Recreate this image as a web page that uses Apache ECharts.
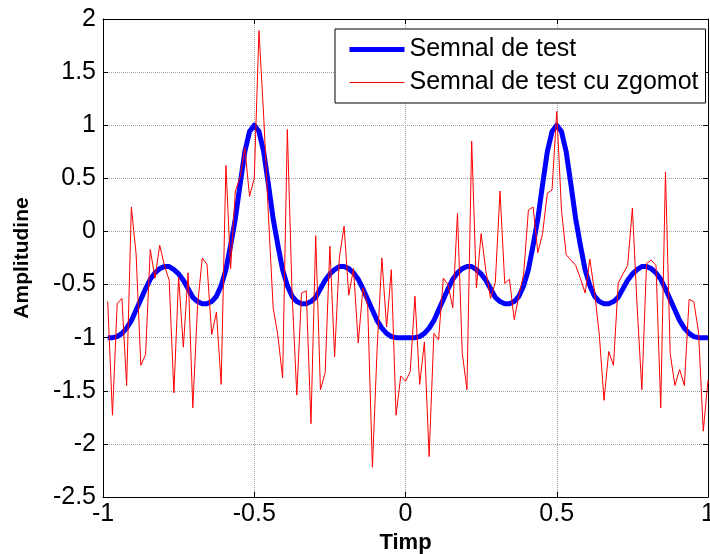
<!DOCTYPE html>
<html>
<head>
<meta charset="utf-8">
<title>Semnal de test</title>
<script src="https://cdn.jsdelivr.net/npm/echarts@6/dist/echarts.min.js"></script>
<style>
  html, body { margin: 0; padding: 0; background: #ffffff; }
  #chart { width: 710px; height: 554px; }
</style>
</head>
<body>
<div id="chart"></div>
<script>
// Sampling grid: 128 samples, t = -1 + k/64 for k = 1..128
const sampleCount = 128;
const sampleStep = 1 / 64;

// Clean test signal (thick blue curve)
const cleanSignal = [
  -1.00, -1.00, -0.99, -0.96, -0.91, -0.84, -0.74, -0.64, -0.54, -0.45,
  -0.39, -0.35, -0.33, -0.33, -0.36, -0.40, -0.46, -0.54, -0.62, -0.66,
  -0.68, -0.68, -0.66, -0.61, -0.51, -0.36, -0.13, 0.12, 0.44, 0.75,
  0.94, 1.00, 0.94, 0.75, 0.44, 0.12, -0.13, -0.36, -0.51, -0.61,
  -0.66, -0.68, -0.68, -0.66, -0.62, -0.54, -0.46, -0.40, -0.36, -0.33,
  -0.33, -0.35, -0.39, -0.45, -0.54, -0.64, -0.74, -0.84, -0.91, -0.96,
  -0.99, -1.00, -1.00, -1.00, -1.00, -1.00, -0.99, -0.96, -0.91, -0.84,
  -0.74, -0.64, -0.54, -0.45, -0.39, -0.35, -0.33, -0.33, -0.36, -0.40,
  -0.46, -0.54, -0.62, -0.66, -0.68, -0.68, -0.66, -0.61, -0.51, -0.36,
  -0.13, 0.12, 0.44, 0.75, 0.94, 1.00, 0.94, 0.75, 0.44, 0.12,
  -0.13, -0.36, -0.51, -0.61, -0.66, -0.68, -0.68, -0.66, -0.62, -0.54,
  -0.46, -0.40, -0.36, -0.33, -0.33, -0.35, -0.39, -0.45, -0.54, -0.64,
  -0.74, -0.84, -0.91, -0.96, -0.99, -1.00, -1.00, -1.00
];

// Same signal with added noise (thin red curve)
const noisySignal = [
  -0.66, -1.73, -0.68, -0.63, -1.45, 0.23, -0.21, -1.26, -1.16, -0.17,
  -0.44, -0.13, -0.32, -0.46, -1.52, -0.43, -1.09, -0.39, -1.66, -0.70,
  -0.25, -0.31, -0.97, -0.76, -1.44, 0.62, -0.35, 0.38, 0.51, 0.79,
  0.33, 0.50, 1.89, 1.08, 0.15, -0.72, -0.98, -1.38, 0.96, -0.58,
  -1.54, -0.58, -0.56, -1.81, -0.04, -1.49, -1.33, -0.14, -1.18, -0.25,
  0.05, -0.60, -0.35, -1.05, -0.53, -0.70, -2.22, -1.10, -0.25, -0.90,
  -0.36, -1.73, -1.36, -1.41, -1.32, -0.61, -1.44, -1.04, -2.12, -0.96,
  -1.02, -0.44, -0.50, -0.72, 0.17, -1.14, -1.49, 0.85, -0.53, -0.02,
  -0.37, -0.63, -0.48, 0.38, -0.49, -0.45, -0.83, -0.60, -0.40, 0.20,
  0.23, -0.20, -0.02, 0.36, 0.39, 1.13, 0.20, -0.22, -0.27, -0.32,
  -0.44, -0.58, -0.26, -0.57, -0.97, -1.59, -1.13, -1.26, -0.49, -0.40,
  -0.32, 0.22, -0.70, -1.49, -0.30, -0.27, -0.32, -1.66, 0.56, -1.15,
  -1.45, -1.30, -1.45, -0.64, -0.66, -0.95, -1.88, -1.40
];

const seriesNames = ['Semnal de test', 'Semnal de test cu zgomot'];
const xTicks = { min: -1, max: 1, step: 0.5 };
const yTicks = { min: -2.5, max: 2, step: 0.5 };

const times = [];
for (let k = 1; k <= sampleCount; k++) times.push(-1 + k * sampleStep);

const pairs = (vals) => vals.map((v, i) => [times[i], v]);

const font = 'Arial, "Liberation Sans", Helvetica, sans-serif';

const gridLine = { show: true, lineStyle: { color: '#a0a0a0', type: [1, 1], width: 1 } };
const frameLine = { show: true, onZero: false, lineStyle: { color: '#000', width: 1 } };
const innerTick = { show: true, inside: true, length: 5, lineStyle: { color: '#000', width: 1 } };

const chart = echarts.init(document.getElementById('chart'), null, { renderer: 'canvas' });

chart.setOption({
  animation: false,
  backgroundColor: '#ffffff',
  textStyle: { fontFamily: font },
  grid: { left: 103, right: 2, top: 19, bottom: 57, containLabel: false, outerBoundsMode: 'none' },
  legend: {
    data: [
      { name: seriesNames[0], lineStyle: { width: 5, color: '#0000ff' } },
      { name: seriesNames[1], lineStyle: { width: 1, color: '#ff0000' } }
    ],
    orient: 'vertical',
    left: 335,
    top: 29,
    padding: [8, 7, 8, 12],
    itemGap: 8,
    itemWidth: 55,
    itemHeight: 24,
    itemStyle: { opacity: 0 },
    backgroundColor: '#ffffff',
    borderColor: '#000000',
    borderWidth: 1,
    borderRadius: 0,
    textStyle: { fontFamily: font, fontSize: 25, color: '#000' }
  },
  xAxis: [
    {
      type: 'value', position: 'bottom',
      min: xTicks.min, max: xTicks.max, interval: xTicks.step,
      name: 'Timp', nameLocation: 'middle', nameGap: 34,
      nameTextStyle: { fontFamily: font, fontSize: 22, fontWeight: 'bold', color: '#000' },
      axisLine: frameLine, axisTick: innerTick,
      axisLabel: { fontFamily: font, fontSize: 25, color: '#000', margin: 5 },
      splitLine: gridLine
    },
    {
      type: 'value', position: 'top',
      min: xTicks.min, max: xTicks.max, interval: xTicks.step,
      axisLine: frameLine, axisTick: innerTick,
      axisLabel: { show: false }, splitLine: { show: false }
    }
  ],
  yAxis: [
    {
      type: 'value', position: 'left',
      min: yTicks.min, max: yTicks.max, interval: yTicks.step,
      name: 'Amplitudine', nameLocation: 'middle', nameGap: 70,
      nameTextStyle: { fontFamily: font, fontSize: 21, fontWeight: 'bold', color: '#000' },
      axisLine: frameLine, axisTick: innerTick,
      axisLabel: { fontFamily: font, fontSize: 25, color: '#000', margin: 7 },
      splitLine: gridLine
    },
    {
      type: 'value', position: 'right',
      min: yTicks.min, max: yTicks.max, interval: yTicks.step,
      axisLine: frameLine, axisTick: innerTick,
      axisLabel: { show: false }, splitLine: { show: false }
    }
  ],
  series: [
    {
      name: seriesNames[0], type: 'line',
      data: pairs(cleanSignal),
      symbol: 'none', smooth: false,
      lineStyle: { color: '#0000ff', width: 5, join: 'round' },
      itemStyle: { color: '#0000ff' },
      z: 2
    },
    {
      name: seriesNames[1], type: 'line',
      data: pairs(noisySignal),
      symbol: 'none', smooth: false,
      lineStyle: { color: '#ff0000', width: 1 },
      itemStyle: { color: '#ff0000' },
      z: 3
    }
  ]
});
</script>
</body>
</html>
